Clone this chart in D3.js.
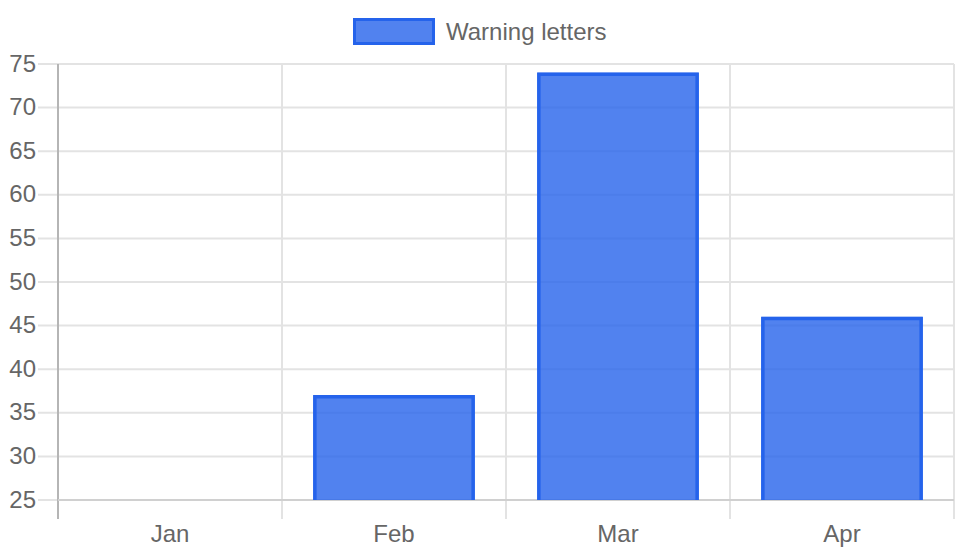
<!DOCTYPE html>
<html>
<head>
<meta charset="utf-8">
<script src="https://cdn.jsdelivr.net/npm/d3@7"></script>
<style>
  body { margin: 0; background: #fff; }
  svg text { font-family: "Liberation Sans", Arial, sans-serif; fill: #666; }
</style>
</head>
<body>
<svg id="chart"></svg>
<script>
const months = ['Jan', 'Feb', 'Mar', 'Apr'];
const warningLetters = [0, 37, 74, 46];
const yTicks = [25, 30, 35, 40, 45, 50, 55, 60, 65, 70, 75];
const seriesName = 'Warning letters';

const W = 960, H = 560;
const margin = {top: 64, right: 6, bottom: 60, left: 58};
const width = W - margin.left - margin.right;
const height = H - margin.top - margin.bottom;

const fill = 'rgba(37,99,235,0.8)';
const stroke = '#2563eb';
const grid = '#e3e3e3';

const svg = d3.select('#chart').attr('width', W).attr('height', H);

const x = d3.scaleBand().domain(months).range([0, width]);
const y = d3.scaleLinear().domain([25, 75]).range([height, 0]);

const g = svg.append('g').attr('transform', `translate(${margin.left},${margin.top})`);

svg.append('defs').append('clipPath').attr('id', 'clip')
  .append('rect').attr('width', width).attr('height', height);

// horizontal grid + y labels
const yAxis = d3.axisLeft(y).tickValues(yTicks).tickSize(-width - 20).tickPadding(2).offset(0);
g.append('g')
  .attr('class', 'axis--y')
  .call(yAxis)
  .call(a => a.select('.domain').remove())
  .call(a => a.selectAll('.tick line').attr('x1', -20).attr('x2', width)
    .attr('stroke', grid).attr('stroke-width', 2))
  .call(a => a.selectAll('.tick text').attr('x', -22).attr('font-size', 24).attr('fill', '#666'));

// vertical grid at category boundaries
const bounds = months.map(m => x(m)).concat([width]);
g.append('g').selectAll('line').data(bounds).join('line')
  .attr('x1', d => d).attr('x2', d => d)
  .attr('y1', 0).attr('y2', height + 19)
  .attr('stroke', (d, i) => i === 0 ? '#b5b5b5' : grid)
  .attr('stroke-width', 2);

// baseline
g.append('line').attr('x1', 0).attr('x2', width)
  .attr('y1', height).attr('y2', height)
  .attr('stroke', '#d0d0d0').attr('stroke-width', 2);

// x labels
const xAxis = d3.axisBottom(x).tickSize(0).tickPadding(25);
g.append('g')
  .attr('class', 'axis--x')
  .attr('transform', `translate(0,${height})`)
  .call(xAxis)
  .call(a => a.select('.domain').remove())
  .call(a => a.selectAll('.tick text').attr('font-size', 24).attr('fill', '#666'));

// bars
const barW = x.bandwidth() * 0.72;
const bars = g.append('g').attr('clip-path', 'url(#clip)');
const data = months.map((m, i) => ({m, v: warningLetters[i]}));

bars.selectAll('rect').data(data).join('rect')
  .attr('x', d => x(d.m) + (x.bandwidth() - barW) / 2)
  .attr('width', barW)
  .attr('y', d => Math.min(y(d.v), height))
  .attr('height', d => Math.max(0, height - y(d.v)))
  .attr('fill', fill);

bars.selectAll('path').data(data.filter(d => d.v > 25)).join('path')
  .attr('d', d => {
    const x0 = x(d.m) + (x.bandwidth() - barW) / 2 + 1.5;
    const x1 = x0 + barW - 3;
    const t = y(d.v) + 1.5;
    return `M${x0},${height}V${t}H${x1}V${height}`;
  })
  .attr('fill', 'none')
  .attr('stroke', stroke)
  .attr('stroke-width', 3.5);

// legend
const legend = svg.append('g').attr('transform', 'translate(353,18)');
legend.append('rect')
  .attr('x', 1.5).attr('y', 1.5).attr('width', 79).attr('height', 24)
  .attr('fill', fill).attr('stroke', stroke).attr('stroke-width', 3);
legend.append('text')
  .attr('x', 93).attr('y', 14).attr('dy', '0.35em')
  .attr('font-size', 24)
  .text(seriesName);
</script>
</body>
</html>
